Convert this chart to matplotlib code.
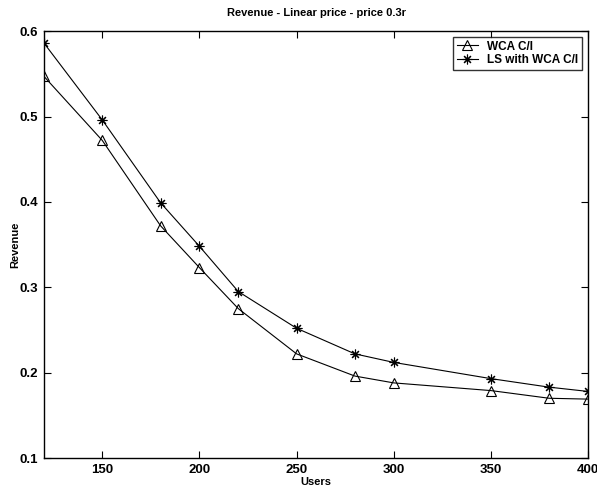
import matplotlib
matplotlib.use("Agg")
import matplotlib.pyplot as plt

users = [120, 150, 180, 200, 220, 250, 280, 300, 350, 380, 400]
wca = [0.547, 0.472, 0.372, 0.323, 0.275, 0.222, 0.196, 0.188, 0.179, 0.170, 0.169]
ls_wca = [0.586, 0.496, 0.399, 0.348, 0.295, 0.252, 0.222, 0.212, 0.193, 0.183, 0.178]
xticks = [150, 200, 250, 300, 350, 400]
yticks = [0.1, 0.2, 0.3, 0.4, 0.5, 0.6]

plt.rcParams['font.family'] = ['Liberation Sans', 'DejaVu Sans']

fig = plt.figure(figsize=(5.97, 4.87), dpi=100)
ax = fig.add_axes([0.0737, 0.0595, 0.9113, 0.8765])

ax.plot(users, wca, color='black', lw=0.8, marker='^', markersize=6.5,
        markerfacecolor='none', markeredgecolor='black', markeredgewidth=0.8,
        label='WCA C/I')
ax.plot(users, ls_wca, color='black', lw=0.8, marker=(8, 2, 0), markersize=7,
        markeredgewidth=0.8, label='LS with WCA C/I')

ax.set_xlim(120, 400)
ax.set_ylim(0.1, 0.6)
ax.set_xticks(xticks)
ax.set_yticks(yticks)
ax.set_xticklabels([str(v) for v in xticks], fontweight='bold', fontsize=9.5)
ax.set_yticklabels([f"{v:.1f}" for v in yticks], fontweight='bold', fontsize=9.5)
ax.tick_params(direction='in', top=True, right=True, length=5, width=0.8, pad=4)
for s in ax.spines.values():
    s.set_linewidth(1.0)

ax.set_title('Revenue - Linear price - price 0.3r', fontsize=8, fontweight='bold', pad=11)
ax.set_xlabel('Users', fontsize=8, fontweight='bold', labelpad=1)
ax.set_ylabel('Revenue', fontsize=8, fontweight='bold', labelpad=0)

leg = ax.legend(loc='upper right', prop={'weight': 'bold', 'size': 8.5},
                frameon=True, fancybox=False, edgecolor='black', borderpad=0.3,
                handlelength=1.8, labelspacing=0.15, borderaxespad=0.5)
leg.get_frame().set_linewidth(1.0)

fig.savefig('out.png', dpi=100)
